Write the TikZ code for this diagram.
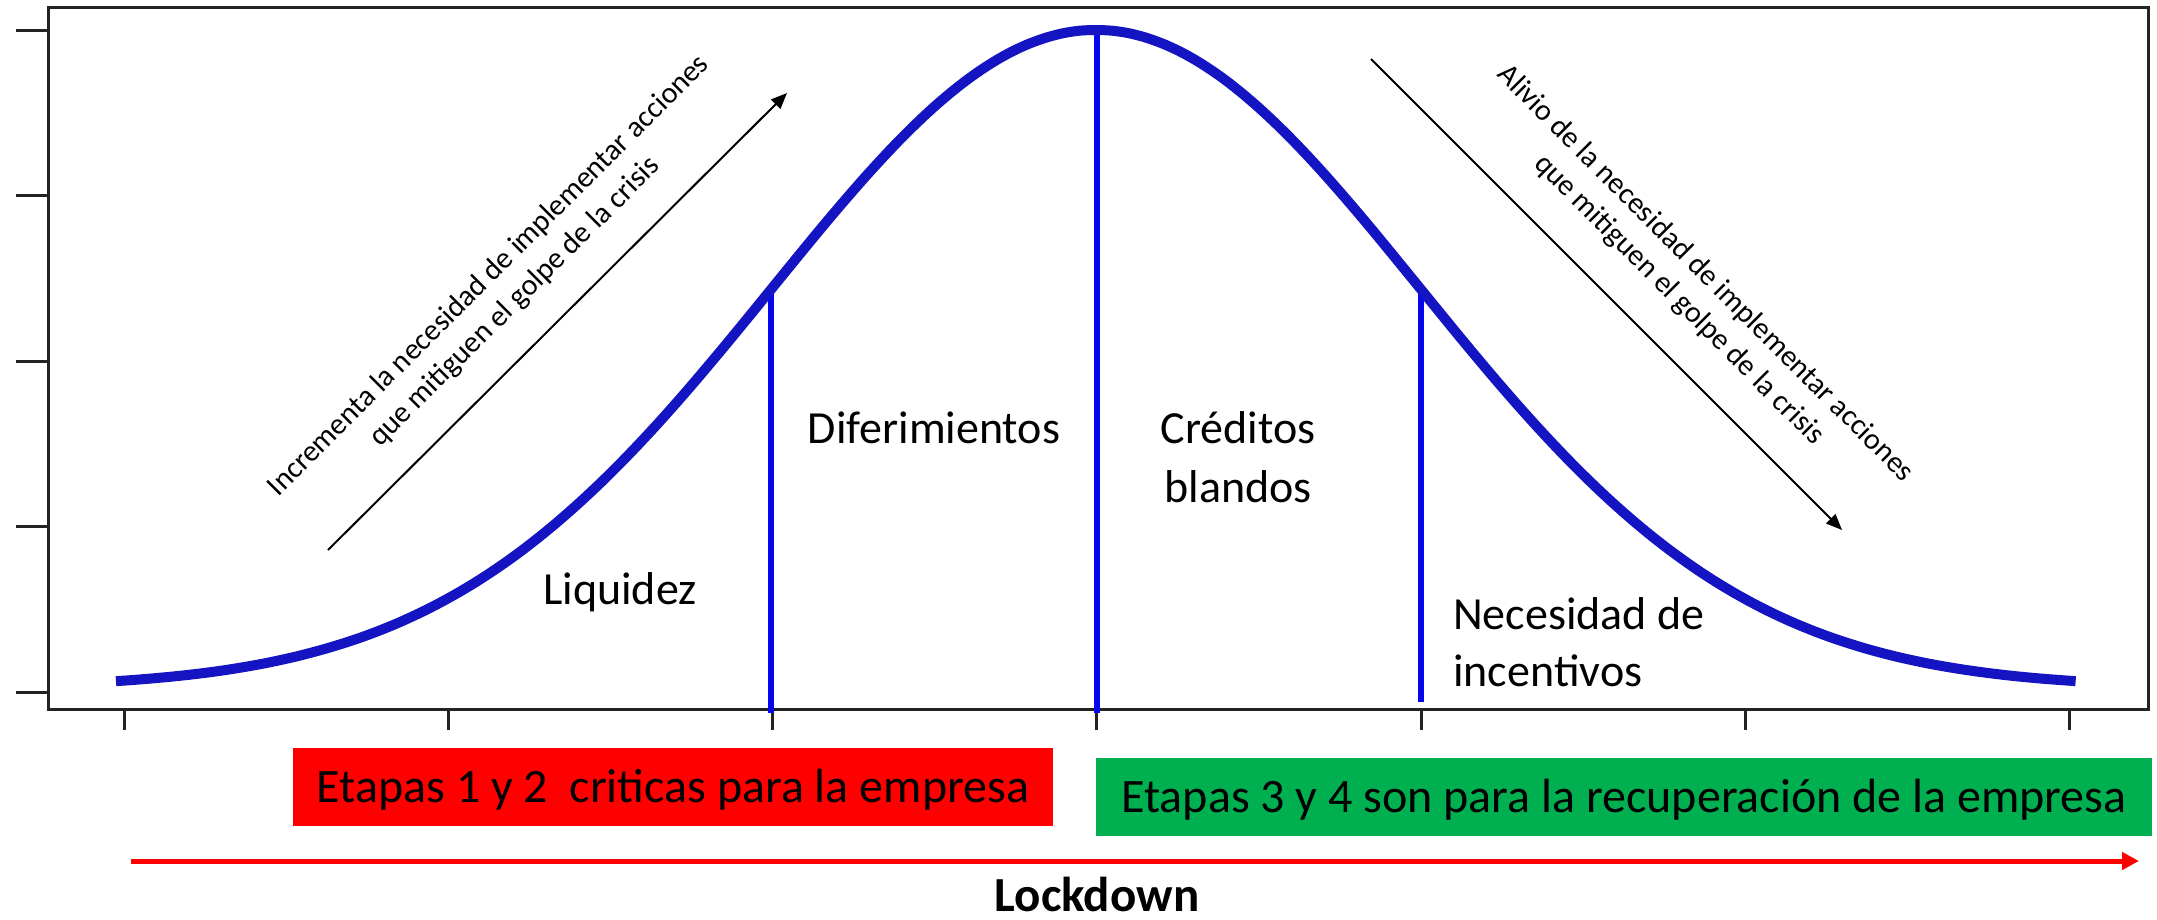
\documentclass[tikz,border=0pt]{standalone}
\usepackage{fontspec}
\setmainfont{Carlito}
\usetikzlibrary{arrows.meta}
\definecolor{curveblue}{RGB}{20,20,195}
\definecolor{lineblue}{RGB}{5,5,240}
\definecolor{boxgreen}{RGB}{0,176,80}
\definecolor{boxred}{RGB}{255,0,0}
\definecolor{axisgray}{RGB}{35,35,35}
\begin{document}
\begin{tikzpicture}[x=1pt,y=-1pt,
  lbl/.style={font=\fontsize{46}{56}\selectfont, inner sep=0pt},
  diag/.style={font=\fontsize{30}{37}\selectfont, align=center, inner sep=0pt},
  band/.style={font=\fontsize{48}{58}\selectfont, inner sep=0pt, text height=31pt, text depth=0pt},
  thinarrow/.style={line width=2pt, -{Triangle[length=16pt,width=13pt]}},
  axisline/.style={axisgray, line width=3pt},
  stage/.style={lineblue, line width=6pt},
  bell/.style={curveblue, line width=10pt},
  timearrow/.style={boxred, line width=5pt, -{Triangle[length=17pt,width=17pt]}}
]
\useasboundingbox (0,0) rectangle (2157,919);
\fill[white] (0,0) rectangle (2157,919);

% axes frame and ticks
\coordinate (fr1) at (48,7);
\coordinate (fr2) at (2148,709);
\draw[axisline] (fr1) rectangle (fr2);
\foreach \yy in {30,195.5,361,526.5,692} \draw[axisline] (16,\yy) -- (48,\yy);
\foreach \i in {0,...,6} \draw[axisline] ({124+324.3*\i},709) -- ({124+324.3*\i},730);

% stage separators
\coordinate (v1t) at (771,289);
\coordinate (v1b) at (771,713);
\coordinate (v2t) at (1097,32);
\coordinate (v2b) at (1097,713);
\coordinate (v3t) at (1421,289);
\coordinate (v3b) at (1421,702);
\draw[stage] (v1t) -- (v1b);
\draw[stage] (v2t) -- (v2b);
\draw[stage] (v3t) -- (v3b);

% bell curve
\draw[bell] plot[domain=-3.02:3.02, samples=121, smooth] ({1096+324.5*\x},{688-658*exp(-0.5*(\x)*(\x))});

% labels
\node[lbl, anchor=base] (liq) at (620,604) {Liquidez};
\node[lbl, anchor=base] (dif) at (934,443) {Diferimientos};
\node[lbl, anchor=base] (cred1) at (1238,443) {Créditos};
\node[lbl, anchor=base] (cred2) at (1238,502) {blandos};
\node[lbl, anchor=base west] (nec1) at (1453,629) {Necesidad de};
\node[lbl, anchor=base west] (nec2) at (1453,686) {incentivos};

% diagonal arrows and texts
\coordinate (a1s) at (328,550);
\coordinate (a1e) at (787,93);
\coordinate (a2s) at (1371,59);
\coordinate (a2e) at (1842,530);
\draw[thinarrow] (a1s) -- (a1e);
\draw[thinarrow] (a2s) -- (a2e);
\node[diag, rotate=45] (incr) at (502,289) {Incrementa la necesidad de implementar acciones\\que mitiguen el golpe de la crisis};
\node[diag, rotate=-45] (aliv) at (1692,287) {Alivio de la necesidad de implementar acciones\\que mitiguen el golpe de la crisis};

% stage boxes
\node[band, fill=boxred, minimum width=760pt, minimum height=78pt] (redbox) at (673,787) {Etapas 1 y 2\ \ criticas para la empresa};
\node[band, fill=boxgreen, minimum width=1056pt, minimum height=78pt] (greenbox) at (1624,797) {Etapas 3 y 4 son para la recuperación de la empresa};

% time arrow
\coordinate (ls) at (131,861);
\coordinate (le) at (2139,861);
\draw[timearrow] (ls) -- (le);
\node[font=\bfseries\fontsize{49}{58}\selectfont, anchor=base, inner sep=0pt] (lock) at (1097,911) {Lockdown};
\end{tikzpicture}
\end{document}
